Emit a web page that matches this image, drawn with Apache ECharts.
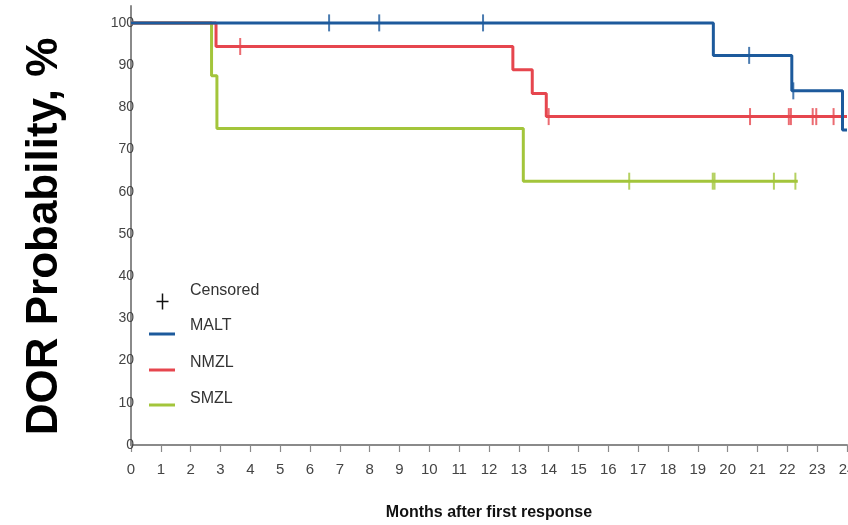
<!DOCTYPE html>
<html>
<head>
<meta charset="utf-8">
<script src="https://cdn.jsdelivr.net/npm/echarts@6/dist/echarts.min.js"></script>
<style>
html,body{margin:0;padding:0;background:#fff;}
#chart{width:848px;height:525px;}
</style>
</head>
<body>
<div id="chart"></div>
<script>
// ---- data ----
var monthTicks = [0,1,2,3,4,5,6,7,8,9,10,11,12,13,14,15,16,17,18,19,20,21,22,23,24];
var yTicks = [0,10,20,30,40,50,60,70,80,90,100];

var maltTimes = [0, 19.52, 22.15, 23.85, 24];
var maltSurv  = [100, 92.3, 83.9, 74.6, 74.6];
var maltCensorT = [6.64, 8.32, 11.8, 20.72, 22.2];
var maltCensorS = [100, 100, 100, 92.3, 83.9];

var nmzlTimes = [0, 2.85, 12.8, 13.45, 13.92, 24];
var nmzlSurv  = [100, 94.4, 88.9, 83.3, 77.8, 77.8];
var nmzlCensorT = [3.66, 14.0, 20.75, 22.05, 22.12, 22.85, 22.97, 23.55];
var nmzlCensorS = [94.4, 77.8, 77.8, 77.8, 77.8, 77.8, 77.8, 77.8];

var smzlTimes = [0, 2.7, 2.88, 13.15, 22.35];
var smzlSurv  = [100, 87.5, 75, 62.5, 62.5];
var smzlCensorT = [16.7, 19.5, 19.56, 21.55, 22.27];
var smzlCensorS = [62.5, 62.5, 62.5, 62.5, 62.5];

var names = ['MALT', 'NMZL', 'SMZL'];
var colors = ['#1d5a9c', '#e6464e', '#a3c53b'];

function pairs(xs, ys){ return xs.map(function(x,i){ return [x, ys[i]]; }); }

var curves = [pairs(maltTimes, maltSurv), pairs(nmzlTimes, nmzlSurv), pairs(smzlTimes, smzlSurv)];
var censors = [pairs(maltCensorT, maltCensorS), pairs(nmzlCensorT, nmzlCensorS), pairs(smzlCensorT, smzlCensorS)];

var series = [];
var zOrder = [4, 3, 2];
names.forEach(function(n, i){
  series.push({
    name: n, type: 'line', step: 'end', data: curves[i],
    symbol: 'none', lineStyle: {color: colors[i], width: 3}, z: zOrder[i], silent: true
  });
  series.push({
    name: n + ' censored', type: 'scatter', data: censors[i],
    symbol: 'rect', symbolSize: [2, 17],
    itemStyle: {color: colors[i]}, z: zOrder[i] + 5, silent: true
  });
});

var legendFont = '16px "Liberation Sans", Arial, sans-serif';
var graphics = [
  {type:'group', left: 154, top: 291, children:[
    {type:'line', shape:{x1:8, y1:0, x2:8, y2:16}, style:{stroke:'#111', lineWidth:1.5}},
    {type:'line', shape:{x1:2, y1:8, x2:14, y2:8}, style:{stroke:'#111', lineWidth:1.5}}
  ]},
  {type:'text', left: 190, top: 283, style:{text:'Censored', font: legendFont, fill:'#333'}}
];
var legendLineY = [334, 370, 405];
var legendTextY = [318, 355, 391];
names.forEach(function(n, i){
  graphics.push({type:'rect', left:149, top: legendLineY[i]-1.5, shape:{width:26, height:3}, style:{fill: colors[i]}});
  graphics.push({type:'text', left:190, top: legendTextY[i], style:{text:n, font: legendFont, fill:'#333'}});
});

var chart = echarts.init(document.getElementById('chart'), null, {renderer:'canvas'});
chart.setOption({
  animation: false,
  backgroundColor: '#fff',
  grid: {left: 131, right: 1, top: 6, bottom: 80, containLabel: false, outerBoundsMode: 'none'},
  xAxis: {
    type: 'value', min: 0, max: 24, interval: 1,
    name: 'Months after first response', nameLocation: 'middle', nameGap: 60,
    nameTextStyle: {fontFamily: '"Liberation Sans", Arial, sans-serif', fontWeight: 'bold', fontSize: 16, color: '#111'},
    axisLine: {show: true, lineStyle: {color: '#8a8a8a', width: 2}},
    axisTick: {show: true, length: 7, lineStyle: {color: '#8a8a8a', width: 1.2}},
    axisLabel: {margin: 17, fontSize: 15, color: '#444', fontFamily: '"Liberation Sans", Arial, sans-serif',
      formatter: function(v){ return monthTicks.indexOf(v) >= 0 ? String(v) : ''; }},
    splitLine: {show: false}
  },
  yAxis: {
    type: 'value', min: 0, max: 104, interval: 10,
    name: 'DOR Probability, %', nameLocation: 'middle', nameGap: 64, nameRotate: 90,
    nameTextStyle: {fontFamily: '"Liberation Sans", Arial, sans-serif', fontWeight: 'bold', fontSize: 44, color: '#000',
      padding: [0, 22, 0, 0]},
    axisLine: {show: true, lineStyle: {color: '#8a8a8a', width: 2}},
    axisTick: {show: false},
    axisLabel: {margin: -3, fontSize: 14, color: '#444', fontFamily: '"Liberation Sans", Arial, sans-serif',
      padding: [0,0,12,0],
      formatter: function(v){ return yTicks.indexOf(v) >= 0 ? String(v) : ''; }},
    splitLine: {show: false}
  },
  graphic: graphics,
  series: series
});
</script>
</body>
</html>
